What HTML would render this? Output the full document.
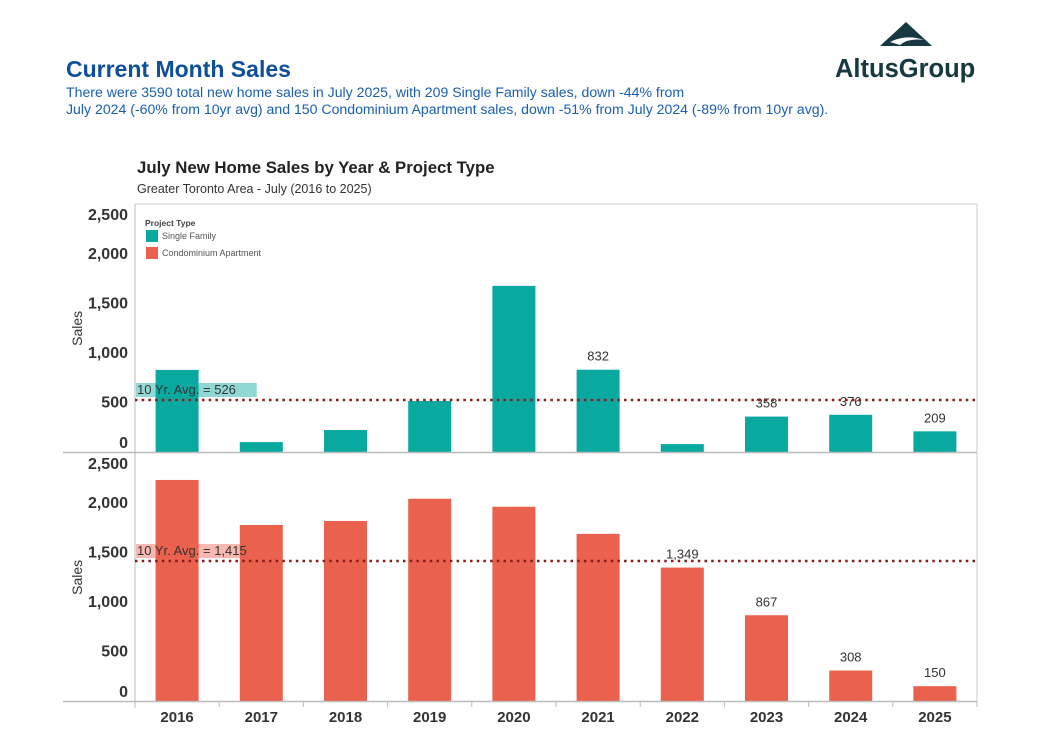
<!DOCTYPE html>
<html><head><meta charset="utf-8"><style>
body{margin:0;background:#fff;width:1045px;height:739px;overflow:hidden;font-family:"Liberation Sans",sans-serif}
svg{display:block}
</style></head><body>
<svg width="1045" height="739" viewBox="0 0 1045 739" id="root">
<text x="66" y="77" font-size="23" font-weight="bold" fill="#0d4f9a">Current Month Sales</text>
<text font-size="14.1" fill="#1a5fb0"><tspan x="66" y="97">There were 3590 total new home sales in July 2025, with 209 Single Family sales, down -44% from</tspan><tspan x="66" y="114">July 2024 (-60% from 10yr avg) and 150 Condominium Apartment sales, down -51% from July 2024 (-89% from 10yr avg).</tspan></text>
<g>
<polygon points="880,46 906,22 932,46" fill="#163840"/>
<path d="M890,42 Q906,34 924,40 Q908,38 900,45 Z" fill="#fff"/>
<text x="835" y="77" font-size="25.5" font-weight="bold" fill="#163840">AltusGroup</text>
</g>
<text x="137" y="173" font-size="16.8" font-weight="bold" fill="#222">July New Home Sales by Year &amp; Project Type</text>
<text x="137" y="193" font-size="12.5" fill="#333">Greater Toronto Area - July (2016 to 2025)</text>
<g id="chart"></g>
</svg>
<script>
const years=['2016','2017','2018','2019','2020','2021','2022','2023','2024','2025'];
const singleFamily=[830,100,222,516,1680,832,80,358,376,209];
const condo=[2235,1780,1820,2045,1964,1690,1349,867,308,150];
const yTicks=[0,500,1000,1500,2000,2500];
const yTickLabels=['0','500','1,000','1,500','2,000','2,500'];
const sfLabels={5:'832',7:'358',8:'376',9:'209'};
const condoLabels={6:'1,349',7:'867',8:'308',9:'150'};
const sfAvg=526, condoAvg=1415;
const ns='http://www.w3.org/2000/svg';
const g=document.getElementById('chart');
const L=135,R=977,band=(R-L)/years.length,bw=43;
function mk(t,a,p){const e=document.createElementNS(ns,t);for(const k in a)e.setAttribute(k,a[k]);(p||g).appendChild(e);return e;}
function xc(i){return L+band*(i+0.5);}
function panel(vals,avg,labels,base,color,name,avgText){
  const sc=0.0989;const y=v=>base-v*sc;const top=y(2500);
  const pg=mk('g',{});
  
  
  yTicks.forEach((t,i)=>{
    let ty=y(t)+5;if(t===0)ty=base-4;if(t===2500)ty=top+15;
    const tx=mk('text',{x:128,y:ty,'font-size':16,'font-weight':'bold','text-anchor':'end',fill:'#333'},pg);
    tx.textContent=yTickLabels[i];
    
    
  });
  const yl=mk('text',{x:0,y:0,'font-size':14,fill:'#333','text-anchor':'middle',transform:`translate(82,${(base+top)/2}) rotate(-90)`},pg);
  yl.textContent='Sales';
  
  
  vals.forEach((v,i)=>{
    const b=mk('rect',{x:xc(i)-bw/2,y:y(v),width:bw,height:v*sc,fill:color},pg);
    
    
    if(labels[i]){const t=mk('text',{x:xc(i),y:y(v)-9,'font-size':13,'text-anchor':'middle',fill:'#333'},pg);t.textContent=labels[i];
      
      }
  });
  const ay=y(avg);
  const bg=mk('rect',{x:136,y:ay-17,width:avgText.length*7.1,height:14,fill:color,opacity:0.45},pg);
  const at=mk('text',{x:137,y:ay-6,'font-size':13,fill:'#333'},pg);at.textContent=avgText;
  
  
  const al=mk('line',{x1:L,x2:R,y1:ay,y2:ay,stroke:'#8b1a1a','stroke-width':2.5,'stroke-dasharray':'2.5 4.2'},pg);
  
  
}
mk('line',{x1:L,x2:R,y1:204,y2:204,stroke:'#ccc'});
mk('line',{x1:R,x2:R,y1:204,y2:701,stroke:'#ccc'});
mk('line',{x1:L,x2:L,y1:204,y2:708,stroke:'#bbb'});
panel(singleFamily,sfAvg,sfLabels,452,'#0aa9a0','single-family','10 Yr. Avg. = 526');
panel(condo,condoAvg,condoLabels,701,'#ea624d','condo','10 Yr. Avg. = 1,415');
mk('line',{x1:63,x2:R,y1:452.5,y2:452.5,stroke:'#bbb','stroke-width':1.5});
mk('line',{x1:63,x2:R,y1:701.5,y2:701.5,stroke:'#bbb','stroke-width':1.5});
years.forEach((yr,i)=>{
  mk('line',{x1:L+band*(i+1),x2:L+band*(i+1),y1:701,y2:707,stroke:'#bbb'});
  const t=mk('text',{x:xc(i),y:722,'font-size':15,'font-weight':'bold','text-anchor':'middle',fill:'#333'});
  t.textContent=yr;
  
  
});
const lg=mk('g',{});


mk('text',{x:145,y:226,'font-size':8.5,'font-weight':'bold',fill:'#444'},lg).textContent='Project Type';
const e1=mk('rect',{x:146,y:230,width:12,height:12,fill:'#0aa9a0'},lg);


mk('text',{x:162,y:239,'font-size':9,fill:'#555'},lg).textContent='Single Family';
const e2=mk('rect',{x:146,y:247,width:12,height:12,fill:'#ea624d'},lg);


mk('text',{x:162,y:256,'font-size':9,fill:'#555'},lg).textContent='Condominium Apartment';
</script>
</body></html>
